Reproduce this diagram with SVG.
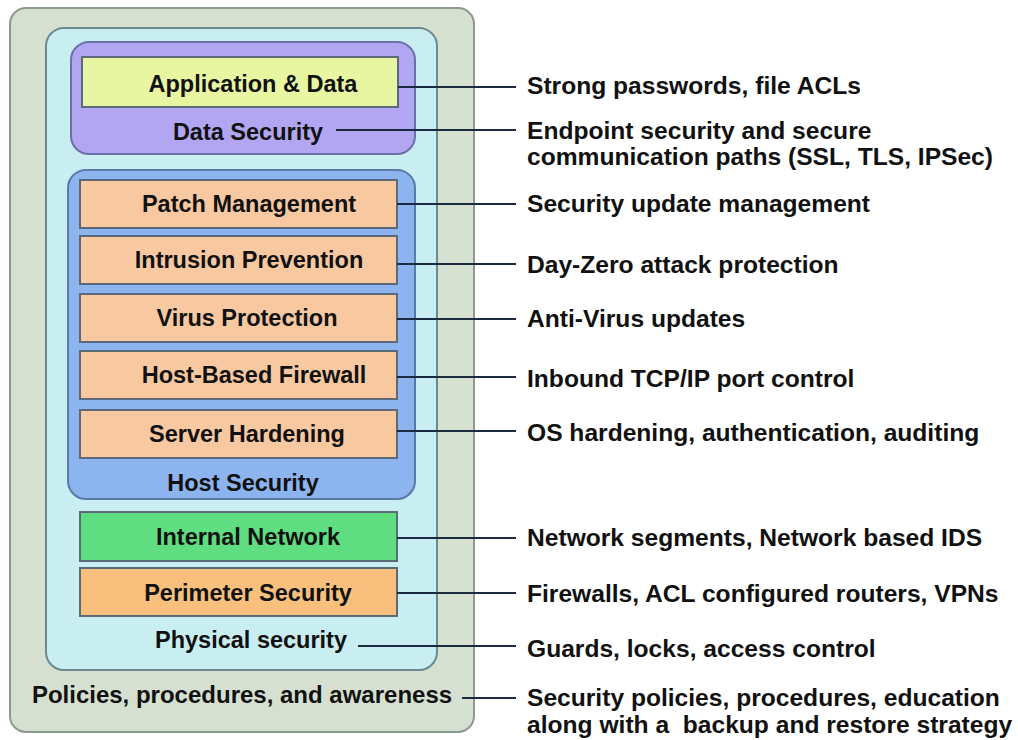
<svg xmlns="http://www.w3.org/2000/svg" width="1018" height="740" viewBox="0 0 1018 740">
<style>
text{font-family:"Liberation Sans",Arial,sans-serif;font-weight:bold;fill:#111;}
.lbl{font-size:23.5px;text-anchor:middle;}
.desc{font-size:24.6px;}
.box{stroke:#5a6a7a;stroke-width:2;}
.item{fill:#f8c8a0;stroke:#5a6a7a;stroke-width:2;}
.conn line{stroke:#1a2a40;stroke-width:2;}
</style>
<rect width="1018" height="740" fill="#ffffff"/>
<g id="policies">
<rect x="10" y="8" width="464" height="724" rx="16" fill="#d5e0d0" stroke="#8a9a8e" stroke-width="2"/>
<text class="lbl" x="242" y="703" style="font-size:24px">Policies, procedures, and awareness</text>
</g>
<g id="physical">
<rect x="46" y="28" width="391" height="642" rx="18" fill="#c8eef2" stroke="#6a8a90" stroke-width="2"/>
<text class="lbl" x="251" y="648">Physical security</text>
</g>
<g id="data-security">
<rect x="71" y="42" width="344" height="112" rx="18" fill="#b2a6f2" stroke="#6a70a8" stroke-width="2"/>
<text class="lbl" x="248" y="140">Data Security</text>
</g>
<g id="app-data">
<rect class="box" x="82" y="57" width="316" height="50" fill="#e8f6a2"/>
<text class="lbl" x="253" y="92">Application &amp; Data</text>
</g>
<g id="host-security">
<rect x="68" y="170" width="347" height="329" rx="18" fill="#8cb4ee" stroke="#5a7aa8" stroke-width="2"/>
<text class="lbl" x="243" y="491">Host Security</text>
</g>
<g id="patch">
<rect class="item" x="80" y="180" width="317" height="48"/>
<text class="lbl" x="249" y="212">Patch Management</text>
</g>
<g id="intrusion">
<rect class="item" x="80" y="236" width="317" height="48"/>
<text class="lbl" x="249" y="268">Intrusion Prevention</text>
</g>
<g id="virus">
<rect class="item" x="80" y="294" width="317" height="48"/>
<text class="lbl" x="247" y="326">Virus Protection</text>
</g>
<g id="firewall">
<rect class="item" x="80" y="351" width="317" height="48"/>
<text class="lbl" x="254" y="383">Host-Based Firewall</text>
</g>
<g id="hardening">
<rect class="item" x="80" y="410" width="317" height="48"/>
<text class="lbl" x="247" y="442">Server Hardening</text>
</g>
<g id="internal-network">
<rect class="box" x="80" y="512" width="317" height="49" fill="#5ede80"/>
<text class="lbl" x="248" y="545">Internal Network</text>
</g>
<g id="perimeter">
<rect class="box" x="80" y="568" width="317" height="48" fill="#f8c07c"/>
<text class="lbl" x="248" y="601">Perimeter Security</text>
</g>
<g class="conn" id="connectors">
<line x1="398" y1="87" x2="516" y2="87"/>
<line x1="336" y1="130" x2="516" y2="130"/>
<line x1="397" y1="204" x2="516" y2="204"/>
<line x1="397" y1="264" x2="516" y2="264"/>
<line x1="397" y1="319" x2="516" y2="319"/>
<line x1="397" y1="377" x2="516" y2="377"/>
<line x1="397" y1="431" x2="516" y2="431"/>
<line x1="397" y1="538" x2="516" y2="538"/>
<line x1="397" y1="593" x2="516" y2="593"/>
<line x1="358" y1="646" x2="516" y2="646"/>
<line x1="462" y1="698" x2="516" y2="698"/>
</g>
<g id="descriptions">
<text class="desc" x="527" y="94">Strong passwords, file ACLs</text>
<text class="desc" x="527" y="139">Endpoint security and secure</text>
<text class="desc" x="527" y="165">communication paths (SSL, TLS, IPSec)</text>
<text class="desc" x="527" y="212">Security update management</text>
<text class="desc" x="527" y="273">Day-Zero attack protection</text>
<text class="desc" x="527" y="327">Anti-Virus updates</text>
<text class="desc" x="527" y="387">Inbound TCP/IP port control</text>
<text class="desc" x="527" y="441">OS hardening, authentication, auditing</text>
<text class="desc" x="527" y="546">Network segments, Network based IDS</text>
<text class="desc" x="527" y="602">Firewalls, ACL configured routers, VPNs</text>
<text class="desc" x="527" y="657">Guards, locks, access control</text>
<text class="desc" x="527" y="706">Security policies, procedures, education</text>
<text class="desc" x="527" y="733" xml:space="preserve">along with a  backup and restore strategy</text>
</g>
</svg>
